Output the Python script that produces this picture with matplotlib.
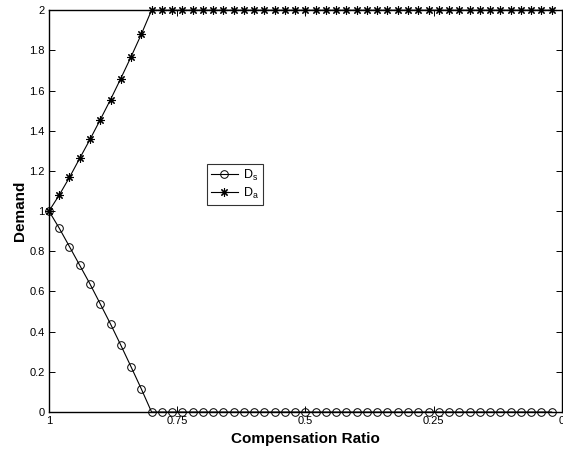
import matplotlib
matplotlib.use("Agg")
import matplotlib.pyplot as plt
import numpy as np

plt.rcParams['font.family'] = ['Liberation Sans', 'DejaVu Sans']
plt.rcParams['mathtext.default'] = 'regular'

# Compensation ratio from 1 down to 0.02 in steps of 0.02
ratio = np.round(np.arange(1.0, 0.0, -0.02), 2)

ds_head = [1.0, 0.915, 0.823, 0.73, 0.637, 0.538, 0.438, 0.333, 0.225, 0.115, 0.0]
da_head = [1.0, 1.08, 1.168, 1.263, 1.357, 1.455, 1.555, 1.66, 1.768, 1.88, 2.0]
n_tail = len(ratio) - len(ds_head)
D_s = ds_head + [0.0] * n_tail
D_a = da_head + [2.0] * n_tail

xticks = [1, 0.75, 0.5, 0.25, 0]
xticklabels = ['1', '0.75', '0.5', '0.25', '0']
yticks = [0, 0.2, 0.4, 0.6, 0.8, 1.0, 1.2, 1.4, 1.6, 1.8, 2.0]
yticklabels = ['0', '0.2', '0.4', '0.6', '0.8', '1', '1.2', '1.4', '1.6', '1.8', '2']

fig = plt.figure(figsize=(5.63, 4.53), dpi=100)
ax = fig.add_axes([0.087, 0.0905, 0.911, 0.887])

ax.plot(ratio, D_s, color='black', linewidth=0.8, marker='o', markersize=5.5,
        markerfacecolor='none', markeredgecolor='black', markeredgewidth=0.7,
        label='D$_s$', clip_on=False)
ax.plot(ratio, D_a, color='black', linewidth=0.8, marker=(8, 2, 0), markersize=6,
        markerfacecolor='black', markeredgecolor='black', markeredgewidth=0.8,
        label='D$_a$', clip_on=False)

ax.set_xlim(1, 0)
ax.set_ylim(0, 2)
ax.set_xticks(xticks)
ax.set_xticklabels(xticklabels)
ax.set_yticks(yticks)
ax.set_yticklabels(yticklabels)
ax.tick_params(direction='in', length=4, width=0.7, labelsize=8, top=True, right=True,
               pad=3)
for s in ax.spines.values():
    s.set_linewidth(1.0)

ax.set_xlabel('Compensation Ratio', fontsize=11, fontweight='bold', labelpad=4)
ax.set_ylabel('Demand', fontsize=11, fontweight='bold', labelpad=2)

leg = ax.legend(loc='upper left', bbox_to_anchor=(0.308, 0.618), fontsize=9,
                frameon=True, fancybox=False, edgecolor='black', handlelength=2.2,
                borderpad=0.3, labelspacing=0.25, handletextpad=0.4,
                borderaxespad=0)
leg.get_frame().set_linewidth(0.8)

fig.savefig('out.png', dpi=100)
